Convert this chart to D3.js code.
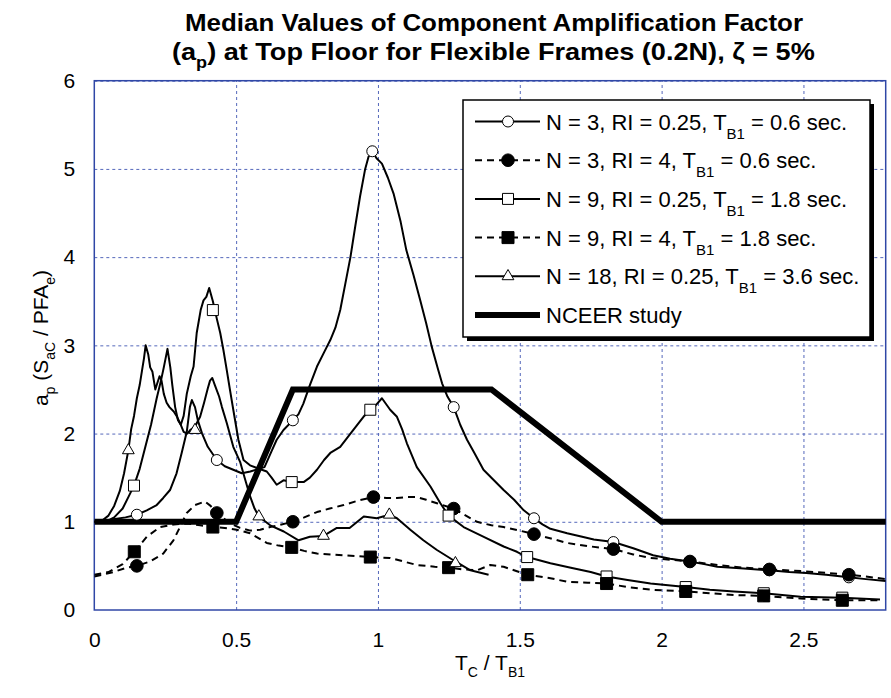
<!DOCTYPE html>
<html>
<head>
<meta charset="utf-8">
<script src="https://cdn.jsdelivr.net/npm/d3@7"></script>
<style>
  body { margin: 0; background: #fff; }
  text { font-family: Arial, "Liberation Sans", sans-serif; fill: #000; }
</style>
</head>
<body>
<script>

var width = 891,
    height = 698;

// axis ticks
var xTicks = [0, 0.5, 1, 1.5, 2, 2.5],
    yTicks = [0, 1, 2, 3, 4, 5, 6];

// N = 3, RI = 0.25 (open circles)
var n3Elastic = [[0,1.0],[0.03,1.0],[0.067,1.03],[0.11,1.05],[0.15,1.08],[0.185,1.13],[0.22,1.19],[0.243,1.27],[0.267,1.36],[0.29,1.55],[0.308,1.78],[0.326,2.02],[0.337,2.3],[0.344,2.38],[0.355,2.3],[0.365,2.15],[0.38,2.0],[0.40,1.85],[0.432,1.70],[0.46,1.63],[0.49,1.59],[0.52,1.55],[0.55,1.57],[0.58,1.6],[0.6,1.62],[0.625,1.8],[0.643,1.93],[0.667,2.04],[0.70,2.15],[0.72,2.22],[0.737,2.34],[0.76,2.55],[0.785,2.76],[0.81,2.92],[0.832,3.06],[0.85,3.2],[0.867,3.4],[0.885,3.7],[0.903,4.0],[0.92,4.35],[0.937,4.69],[0.955,5.0],[0.967,5.14],[0.98,5.2],[0.995,5.12],[1.014,5.06],[1.035,4.9],[1.055,4.72],[1.08,4.4],[1.10,4.08],[1.125,3.8],[1.149,3.51],[1.17,3.25],[1.19,2.98],[1.21,2.75],[1.226,2.57],[1.245,2.42],[1.267,2.3],[1.29,2.1],[1.314,1.93],[1.34,1.78],[1.372,1.59],[1.40,1.5],[1.443,1.36],[1.48,1.25],[1.514,1.13],[1.55,1.04],[1.58,0.97],[1.608,0.92],[1.667,0.87],[1.72,0.83],[1.761,0.80],[1.83,0.77],[1.90,0.70],[1.97,0.62],[2.03,0.58],[2.098,0.55],[2.15,0.52],[2.196,0.49],[2.29,0.47],[2.38,0.45],[2.45,0.43],[2.51,0.42],[2.58,0.40],[2.66,0.37],[2.72,0.35],[2.79,0.33]];
var n3ElasticMarks = [[0.15,1.08],[0.432,1.70],[0.70,2.15],[0.98,5.2],[1.267,2.3],[1.55,1.04],[1.83,0.77],[2.098,0.55],[2.38,0.45],[2.66,0.37]];

// N = 3, RI = 4 (filled circles)
var n3Inelastic = [[0,0.38],[0.03,0.40],[0.067,0.43],[0.114,0.48],[0.15,0.50],[0.197,0.55],[0.243,0.64],[0.279,0.79],[0.302,0.94],[0.326,1.10],[0.355,1.19],[0.39,1.23],[0.41,1.18],[0.432,1.10],[0.479,0.98],[0.514,0.93],[0.55,0.90],[0.585,0.91],[0.62,0.94],[0.66,0.97],[0.70,1.0],[0.74,1.05],[0.785,1.11],[0.83,1.15],[0.879,1.19],[0.93,1.24],[0.984,1.28],[1.03,1.27],[1.067,1.27],[1.10,1.28],[1.137,1.28],[1.17,1.25],[1.208,1.21],[1.267,1.15],[1.31,1.07],[1.349,1.0],[1.40,0.96],[1.443,0.94],[1.50,0.9],[1.55,0.86],[1.61,0.81],[1.667,0.76],[1.75,0.72],[1.83,0.69],[1.90,0.63],[1.96,0.59],[2.1,0.55],[2.2,0.51],[2.29,0.48],[2.38,0.46],[2.5,0.44],[2.58,0.42],[2.66,0.40],[2.72,0.38],[2.79,0.35]];
var n3InelasticMarks = [[0.15,0.50],[0.432,1.10],[0.70,1.0],[0.984,1.28],[1.267,1.15],[1.55,0.86],[1.83,0.69],[2.1,0.55],[2.38,0.46],[2.66,0.40]];

// N = 9, RI = 0.25 (open squares)
var n9Elastic = [[0,1.0],[0.04,1.0],[0.07,1.05],[0.1,1.15],[0.12,1.28],[0.14,1.41],[0.16,1.6],[0.18,1.85],[0.2,2.1],[0.22,2.4],[0.235,2.6],[0.245,2.75],[0.258,2.96],[0.268,2.75],[0.275,2.55],[0.285,2.3],[0.295,2.15],[0.305,2.1],[0.315,2.2],[0.326,2.45],[0.34,2.65],[0.35,2.76],[0.361,3.14],[0.375,3.4],[0.385,3.51],[0.395,3.55],[0.405,3.65],[0.418,3.5],[0.432,3.3],[0.444,3.14],[0.455,2.95],[0.467,2.72],[0.478,2.5],[0.49,2.27],[0.508,1.93],[0.526,1.70],[0.549,1.64],[0.573,1.61],[0.608,1.57],[0.625,1.5],[0.643,1.42],[0.667,1.47],[0.696,1.45],[0.738,1.45],[0.76,1.5],[0.785,1.59],[0.81,1.7],[0.832,1.78],[0.867,1.85],[0.903,2.0],[0.949,2.19],[0.973,2.27],[0.995,2.33],[1.014,2.40],[1.043,2.27],[1.067,2.19],[1.085,2.05],[1.102,1.89],[1.137,1.62],[1.185,1.40],[1.22,1.21],[1.249,1.07],[1.302,0.94],[1.373,0.83],[1.443,0.72],[1.49,0.66],[1.526,0.60],[1.608,0.53],[1.68,0.48],[1.75,0.43],[1.806,0.38],[1.88,0.34],[1.961,0.30],[2.085,0.26],[2.17,0.23],[2.255,0.21],[2.36,0.19],[2.49,0.15],[2.637,0.14],[2.77,0.12]];
var n9ElasticMarks = [[0.14,1.41],[0.418,3.4],[0.696,1.45],[0.973,2.27],[1.249,1.07],[1.526,0.60],[1.806,0.38],[2.085,0.26],[2.36,0.19],[2.637,0.14]];

// N = 9, RI = 4 (filled squares)
var n9Inelastic = [[0,0.40],[0.05,0.43],[0.1,0.52],[0.141,0.66],[0.185,0.83],[0.232,0.94],[0.28,0.97],[0.326,0.98],[0.373,0.96],[0.418,0.94],[0.46,0.93],[0.502,0.91],[0.549,0.87],[0.608,0.76],[0.65,0.73],[0.696,0.71],[0.74,0.67],[0.785,0.64],[0.879,0.62],[0.973,0.60],[1.043,0.59],[1.09,0.55],[1.137,0.51],[1.2,0.49],[1.249,0.48],[1.3,0.46],[1.349,0.45],[1.396,0.51],[1.443,0.49],[1.49,0.44],[1.528,0.40],[1.608,0.36],[1.667,0.32],[1.74,0.31],[1.806,0.30],[1.88,0.26],[1.961,0.23],[2.085,0.21],[2.17,0.19],[2.255,0.17],[2.36,0.16],[2.49,0.13],[2.637,0.11],[2.77,0.11]];
var n9InelasticMarks = [[0.141,0.66],[0.418,0.94],[0.696,0.71],[0.973,0.60],[1.249,0.48],[1.528,0.40],[1.806,0.30],[2.085,0.21],[2.36,0.16],[2.637,0.11]];

// N = 18, RI = 0.25 (open triangles)
var n18Elastic = [[0,1.0],[0.03,1.02],[0.05,1.07],[0.07,1.18],[0.09,1.35],[0.105,1.55],[0.12,1.81],[0.13,2.05],[0.14,2.2],[0.15,2.4],[0.16,2.55],[0.17,2.75],[0.175,2.85],[0.181,3.0],[0.19,2.9],[0.197,2.75],[0.205,2.7],[0.215,2.5],[0.222,2.57],[0.23,2.65],[0.237,2.6],[0.245,2.45],[0.255,2.35],[0.265,2.3],[0.28,2.25],[0.29,2.2],[0.302,2.12],[0.315,2.02],[0.328,2.0],[0.338,2.04],[0.355,2.08],[0.373,2.19],[0.387,2.35],[0.40,2.51],[0.408,2.6],[0.416,2.63],[0.425,2.55],[0.44,2.42],[0.45,2.3],[0.467,2.12],[0.49,1.85],[0.514,1.68],[0.53,1.5],[0.549,1.29],[0.565,1.15],[0.58,1.06],[0.62,0.96],[0.668,0.89],[0.72,0.79],[0.76,0.83],[0.808,0.84],[0.855,0.93],[0.90,0.93],[0.95,1.06],[0.996,1.04],[1.04,1.08],[1.067,1.04],[1.114,0.91],[1.16,0.79],[1.208,0.68],[1.273,0.55],[1.326,0.45],[1.39,0.40]];
var n18ElasticMarks = [[0.12,1.81],[0.355,2.04],[0.58,1.06],[0.808,0.84],[1.04,1.08],[1.273,0.53]];

// NCEER study
var nceer = [[0,1],[0.5,1],[0.7,2.5],[1.4,2.5],[2.0,1],[2.8,1]];

var seriesLabels = [
  ["N = 3, RI = 0.25, T", "B1", " = 0.6 sec."],
  ["N = 3, RI = 4, T", "B1", " = 0.6 sec."],
  ["N = 9, RI = 0.25, T", "B1", " = 1.8 sec."],
  ["N = 9, RI = 4, T", "B1", " = 1.8 sec."],
  ["N = 18, RI = 0.25, T", "B1", " = 3.6 sec."],
  ["NCEER study"]
];

var series = [
  {line: n3Elastic, marks: n3ElasticMarks, symbol: d3.symbolCircle, size: 95, fill: "#fff", dash: null},
  {line: n3Inelastic, marks: n3InelasticMarks, symbol: d3.symbolCircle, size: 125, fill: "#000", dash: "7,5"},
  {line: n9Elastic, marks: n9ElasticMarks, symbol: d3.symbolSquare, size: 121, fill: "#fff", dash: null},
  {line: n9Inelastic, marks: n9InelasticMarks, symbol: d3.symbolSquare, size: 144, fill: "#000", dash: "7,5"},
  {line: n18Elastic, marks: n18ElasticMarks, symbol: d3.symbolTriangle, size: 60, fill: "#fff", dash: null},
  {line: nceer, marks: [], symbol: null, thick: true}
];
series.forEach(function(s, i) { s.label = seriesLabels[i]; });

var plot = {left: 94.3, right: 885.7, top: 80.7, bottom: 610};

var x = d3.scaleLinear().domain([0, 2.79]).range([plot.left, plot.right]);
var y = d3.scaleLinear().domain([0, 6]).range([plot.bottom, plot.top]);

var svg = d3.select("body").append("svg")
    .attr("width", width)
    .attr("height", height);

svg.append("rect").attr("width", width).attr("height", height).attr("fill", "#fff");

svg.append("defs").append("clipPath").attr("id", "clip")
  .append("rect")
    .attr("x", plot.left).attr("y", plot.top)
    .attr("width", plot.right - plot.left).attr("height", plot.bottom - plot.top);

// gridlines
var gx = svg.append("g")
    .attr("transform", "translate(0," + plot.bottom + ")")
    .call(d3.axisBottom(x).tickValues(xTicks.slice(1)).tickSize(-(plot.bottom - plot.top)).tickFormat(""));
var gy = svg.append("g")
    .attr("transform", "translate(" + plot.left + ",0)")
    .call(d3.axisLeft(y).tickValues(yTicks.slice(1)).tickSize(-(plot.right - plot.left)).tickFormat(""));
[gx, gy].forEach(function(g) {
  g.select(".domain").remove();
  g.selectAll(".tick line")
      .attr("stroke", "#5568bb")
      .attr("stroke-width", 1)
      .attr("stroke-dasharray", "3,3");
});

// tick labels
var ax = svg.append("g")
    .attr("transform", "translate(0," + plot.bottom + ")")
    .call(d3.axisBottom(x).tickValues(xTicks).tickSize(0).tickPadding(22).tickFormat(d3.format("")));
var ay = svg.append("g")
    .attr("transform", "translate(" + plot.left + ",0)")
    .call(d3.axisLeft(y).tickValues(yTicks).tickSize(0).tickPadding(19).tickFormat(d3.format("d")));
[ax, ay].forEach(function(g) {
  g.select(".domain").remove();
  g.selectAll("text").attr("font-size", 21).attr("fill", "#000")
      .style("font-family", "Arial, 'Liberation Sans', sans-serif");
});

// plot border
svg.append("rect")
    .attr("x", plot.left).attr("y", plot.top)
    .attr("width", plot.right - plot.left).attr("height", plot.bottom - plot.top)
    .attr("fill", "none")
    .attr("stroke", "#3047a6")
    .attr("stroke-width", 1.5);

var line = d3.line().x(function(d) { return x(d[0]); }).y(function(d) { return y(d[1]); });

var plotArea = svg.append("g").attr("clip-path", "url(#clip)");

// NCEER first (behind)
plotArea.append("path")
    .datum(nceer)
    .attr("d", line)
    .attr("fill", "none")
    .attr("stroke", "#000")
    .attr("stroke-width", 6)
    .attr("stroke-linejoin", "miter");

series.slice(0, 5).forEach(function(s) {
  plotArea.append("path")
      .datum(s.line)
      .attr("d", line)
      .attr("fill", "none")
      .attr("stroke", "#000")
      .attr("stroke-width", 2)
      .attr("stroke-linejoin", "round")
      .attr("stroke-dasharray", s.dash);
});

series.slice(0, 5).forEach(function(s) {
  plotArea.selectAll(null)
      .data(s.marks)
      .enter().append("path")
      .attr("transform", function(d) { return "translate(" + x(d[0]) + "," + y(d[1]) + ")"; })
      .attr("d", d3.symbol().type(s.symbol).size(s.size))
      .attr("fill", s.fill)
      .attr("stroke", "#000")
      .attr("stroke-width", 1);
});

// legend
var lg = svg.append("g");
var lgX = 463, lgY = 100, lgW = 407, lgH = 237;
lg.append("rect")
    .attr("x", lgX + 4).attr("y", lgY + 4)
    .attr("width", lgW).attr("height", lgH)
    .attr("fill", "#000");
lg.append("rect")
    .attr("x", lgX).attr("y", lgY)
    .attr("width", lgW).attr("height", lgH)
    .attr("fill", "#fff")
    .attr("stroke", "#000")
    .attr("stroke-width", 1.5);

series.forEach(function(s, i) {
  var ry = 121.5 + i * 38.7;
  var row = lg.append("g");
  row.append("line")
      .attr("x1", 475).attr("x2", 540)
      .attr("y1", ry).attr("y2", ry)
      .attr("stroke", "#000")
      .attr("stroke-width", s.thick ? 6 : 2)
      .attr("stroke-dasharray", s.dash);
  if (s.symbol) {
    row.append("path")
        .attr("transform", "translate(508," + ry + ")")
        .attr("d", d3.symbol().type(s.symbol).size(s.size))
        .attr("fill", s.fill)
        .attr("stroke", "#000")
        .attr("stroke-width", 1);
  }
  var t = row.append("text")
      .attr("x", 546).attr("y", ry + 8)
      .attr("font-size", 22);
  t.append("tspan").text(s.label[0]);
  if (s.label.length > 1) {
    t.append("tspan").attr("dy", 9).attr("font-size", 15).text(s.label[1]);
    t.append("tspan").attr("dy", -9).text(s.label[2]);
  }
});

// title
var title = svg.append("g").attr("font-weight", "bold");
title.append("text")
    .attr("x", 494).attr("y", 31)
    .attr("text-anchor", "middle")
    .attr("font-size", 24)
    .attr("textLength", 618)
    .attr("lengthAdjust", "spacingAndGlyphs")
    .text("Median Values of Component Amplification Factor");
var t2 = title.append("text")
    .attr("x", 172).attr("y", 60)
    .attr("font-size", 24);
t2.append("tspan").text("(a");
t2.append("tspan").attr("dy", 8).attr("font-size", 16).text("p");
t2.append("tspan").attr("dy", -8).text(") at Top Floor for Flexible Frames (0.2N), \u03b6 = 5%");
// squeeze line 2 to the reference width
var bb = t2.node().getBBox();
t2.attr("transform", "translate(172,0) scale(" + (643 / bb.width) + ",1) translate(-172,0)");

// axis titles
var xt = svg.append("text")
    .attr("x", 490).attr("y", 670)
    .attr("text-anchor", "middle")
    .attr("font-size", 21);
xt.append("tspan").text("T");
xt.append("tspan").attr("dy", 7).attr("font-size", 14).text("C");
xt.append("tspan").attr("dy", -7).text(" / T");
xt.append("tspan").attr("dy", 7).attr("font-size", 14).text("B1");

var yt = svg.append("text")
    .attr("transform", "translate(48,338) rotate(-90)")
    .attr("text-anchor", "middle")
    .attr("font-size", 21);
yt.append("tspan").text("a");
yt.append("tspan").attr("dy", 7).attr("font-size", 14).text("p");
yt.append("tspan").attr("dy", -7).text(" (S");
yt.append("tspan").attr("dy", 7).attr("font-size", 14).text("aC");
yt.append("tspan").attr("dy", -7).text(" / PFA");
yt.append("tspan").attr("dy", 7).attr("font-size", 14).text("e");
yt.append("tspan").attr("dy", -7).text(")");

</script>
</body>
</html>
